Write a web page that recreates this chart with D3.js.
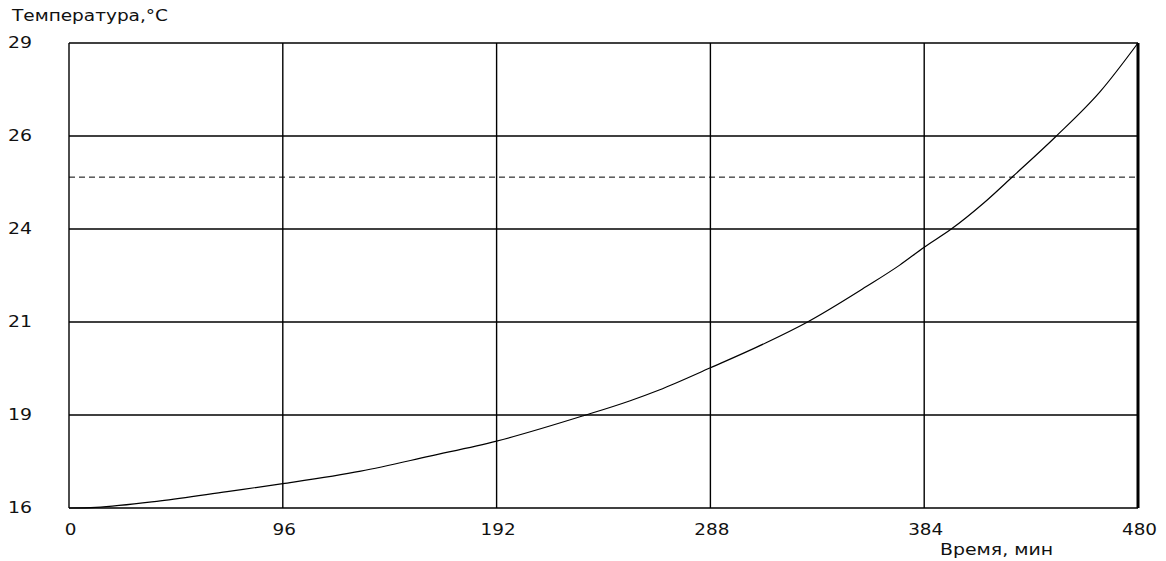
<!DOCTYPE html>
<html><head><meta charset="utf-8">
<script src="https://cdn.jsdelivr.net/npm/d3@7"></script>
<style>body{margin:0;background:#fff}svg{display:block}text{font-family:"DejaVu Sans",sans-serif;font-size:16px;fill:#111}</style>
</head><body><svg id="c" width="1166" height="561"></svg>
<script>
const times = [0,12,41,71,96,131,162,192,231,252,265,288,313,331,358,373,384,396,411,424,443,463,480];
const temps = [16.0,16.02,16.20,16.46,16.68,17.03,17.45,17.87,18.58,19.0,19.30,19.92,20.62,21.18,22.19,22.79,23.29,23.79,24.54,25.28,26.38,27.64,29.0];
const xTicks = [0,96,192,288,384,480];
const yTicks = [16,18.6,21.2,23.8,26.4,29];
const yTickLabels = ["16","19","21","24","26","29"];
const threshold = 25.25;
const yTitle = "Температура,°C";
const xTitle = "Время, мин";

const svg = d3.select("#c");
const L=69,R=1138,T=43,B=508;
const x = d3.scaleLinear().domain([0,480]).range([L,R]);
const y = d3.scaleLinear().domain([16,29]).range([B,T]);

// grid
svg.append("g").selectAll("line").data(xTicks).join("line")
  .attr("x1",d=>x(d)).attr("x2",d=>x(d)).attr("y1",T).attr("y2",B)
  .attr("stroke","#000").attr("stroke-width",1.4);
svg.append("g").selectAll("line").data(yTicks).join("line")
  .attr("x1",L).attr("x2",R).attr("y1",d=>y(d)).attr("y2",d=>y(d))
  .attr("stroke","#000").attr("stroke-width",1.4);
svg.append("line").attr("x1",x(480)).attr("x2",x(480)).attr("y1",T).attr("y2",B)
  .attr("stroke","#000").attr("stroke-width",3);

// threshold dashed
svg.append("line").attr("x1",L).attr("x2",R).attr("y1",y(threshold)).attr("y2",y(threshold))
  .attr("stroke","#000").attr("stroke-width",1).attr("stroke-dasharray","6,4");

// curve
const pts = times.map((t,i)=>[t,temps[i]]);
svg.append("path").datum(pts)
  .attr("d",d3.line().x(d=>x(d[0])).y(d=>y(d[1])).curve(d3.curveMonotoneX))
  .attr("fill","none").attr("stroke","#000").attr("stroke-width",1.2);

// y tick labels
svg.append("g").selectAll("text").data(yTicks).join("text")
  .attr("transform",d=>`translate(8,${y(d)-1}) scale(1.18,1)`).attr("dy","0.36em")
  .text((d,i)=>yTickLabels[i]);
// x tick labels
svg.append("g").selectAll("text").data(xTicks).join("text")
  .attr("transform",d=>`translate(${x(d)+1.5},529.5) scale(1.15,1)`).attr("dy","0.36em")
  .attr("text-anchor","middle").text(d=>d);

svg.append("text").attr("x",12).attr("y",21).attr("textLength",156).attr("lengthAdjust","spacingAndGlyphs").text(yTitle);
svg.append("text").attr("x",940).attr("y",555).attr("textLength",113).attr("lengthAdjust","spacingAndGlyphs").text(xTitle);
</script></body></html>
